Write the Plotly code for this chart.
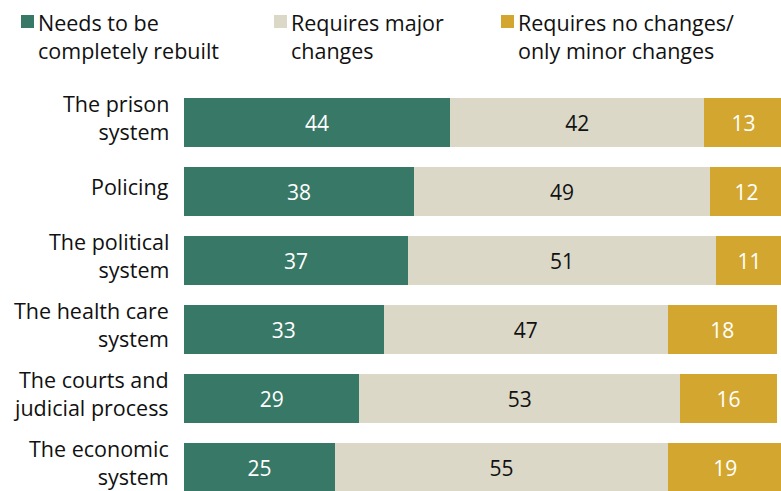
import plotly.graph_objects as go

categories = ["The prison<br>system", "Policing", "The political<br>system",
              "The health care<br>system", "The courts and<br>judicial process",
              "The economic<br>system"]
rebuilt = [44, 38, 37, 33, 29, 25]
major = [42, 49, 51, 47, 53, 55]
minor = [13, 12, 11, 18, 16, 19]
series_names = ["Needs to be<br>completely rebuilt", "Requires major<br>changes",
                "Requires no changes/<br>only minor changes"]
colors = ["#387866", "#dbd8c8", "#d3a72f"]
text_colors = ["white", "#111111", "white"]

W, H = 781, 491
ML, MR, MT, MB = 184, 0, 88, 0
FONT = "Open Sans"
TXT = "#111111"

fig = go.Figure()
for vals, name, c, tc in zip([rebuilt, major, minor], series_names, colors, text_colors):
    fig.add_trace(go.Bar(
        y=categories, x=vals, orientation="h", name=name,
        marker=dict(color=c, line=dict(width=0)),
        text=[str(v) for v in vals], textposition="inside",
        insidetextanchor="middle",
        textfont=dict(family=FONT, size=21, color=tc),
        width=0.715, showlegend=False, hoverinfo="skip",
    ))

pw = W - ML - MR
ph = H - MT - MB
def px2x(px):
    return (px - ML) / pw
def py2y(py):
    return (H - MB - py) / ph

legend_items = [(21, 38), (274, 291), (501, 518)]
for (sq, tx), name, c in zip(legend_items, series_names, colors):
    fig.add_shape(type="rect", xref="paper", yref="paper",
                  x0=px2x(sq), x1=px2x(sq + 13), y0=py2y(28), y1=py2y(15),
                  fillcolor=c, line=dict(width=0))
    fig.add_annotation(xref="paper", yref="paper", x=px2x(tx - 2), y=py2y(6),
                       xanchor="left", yanchor="top", align="left",
                       showarrow=False, text=name,
                       font=dict(family=FONT, size=21.5, color=TXT))

for cat in categories:
    fig.add_annotation(xref="paper", yref="y", x=px2x(171), y=cat,
                       xanchor="right", yanchor="middle", align="right",
                       showarrow=False, text=cat, yshift=5,
                       font=dict(family=FONT, size=21.5, color=TXT))

fig.update_layout(
    width=W, height=H, barmode="stack",
    margin=dict(l=ML, r=MR, t=MT, b=MB, pad=0),
    paper_bgcolor="white", plot_bgcolor="white",
    font=dict(family=FONT, size=20, color=TXT),
    uniformtext=dict(minsize=21, mode="show"),
    xaxis=dict(range=[0, 98.7], visible=False, fixedrange=True),
    yaxis=dict(autorange=False, range=[5.34, -0.5], showgrid=False, zeroline=False,
               showline=False, ticks="", showticklabels=False),
)

fig.write_html("out.html")
